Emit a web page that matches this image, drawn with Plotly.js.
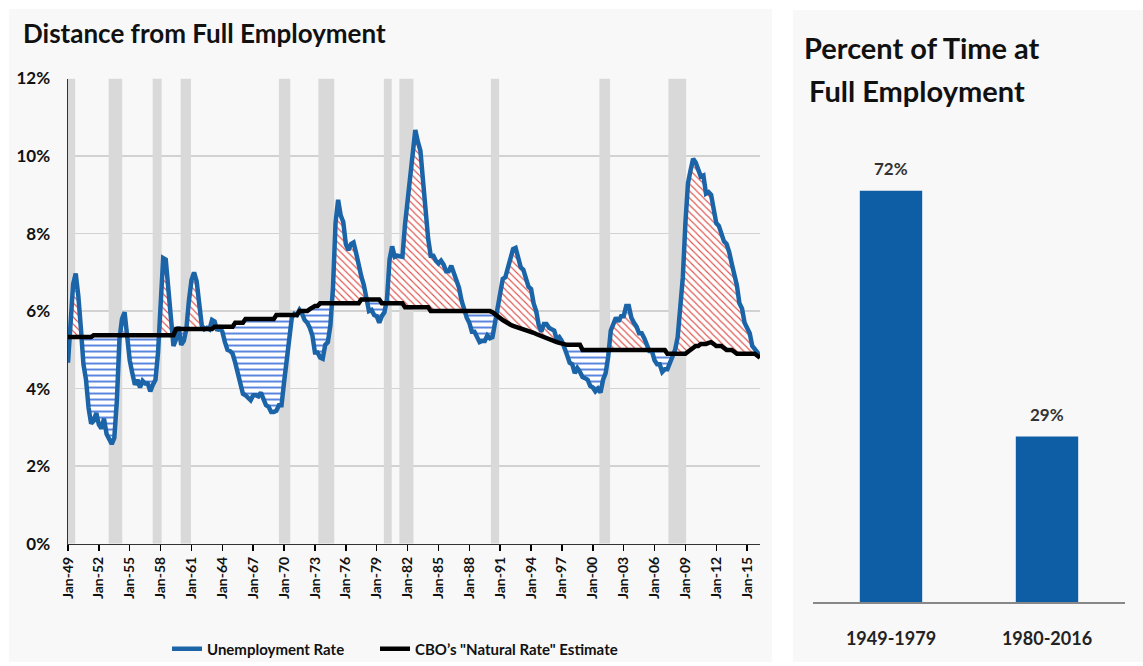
<!DOCTYPE html>
<html><head><meta charset="utf-8">
<script src="https://cdn.plot.ly/plotly-3.0.1.min.js"></script>
<style>html,body{margin:0;padding:0;background:#fff;}#chart{width:1143px;height:666px;}</style>
</head><body><div id="chart"></div>
<script>
// ---- Data (quarterly, starting 1949 Q1) ----
const startYear = 1949;
const unemployment = [
 4.67,5.87,6.70,6.97, 6.40,5.57,4.63,4.23, 3.50,3.10,3.17,3.37, 3.07,2.97,3.23,2.83,
 2.70,2.57,2.73,3.70, 5.27,5.80,5.97,5.33, 4.73,4.40,4.10,4.23, 4.03,4.20,4.13,4.13,
 3.93,4.10,4.23,4.93, 6.30,7.37,7.33,6.37, 5.83,5.10,5.27,5.60, 5.13,5.23,5.53,6.27,
 6.80,7.00,6.77,6.20, 5.63,5.53,5.57,5.53, 5.77,5.73,5.50,5.57, 5.47,5.20,5.00,4.97,
 4.90,4.67,4.37,4.10, 3.87,3.83,3.77,3.70, 3.83,3.83,3.80,3.90, 3.73,3.57,3.53,3.40,
 3.40,3.43,3.57,3.57, 4.17,4.77,5.17,5.83, 5.93,5.90,6.03,5.93, 5.77,5.70,5.57,5.37,
 4.93,4.93,4.80,4.77, 5.13,5.20,5.63,6.60, 8.27,8.87,8.47,8.30, 7.73,7.57,7.73,7.77,
 7.50,7.13,6.90,6.67, 6.33,6.00,6.03,5.90, 5.87,5.70,5.87,5.97, 6.30,7.33,7.67,7.40,
 7.43,7.40,7.40,8.23, 8.83,9.43,9.90,10.67, 10.37,10.13,9.37,8.53, 7.87,7.43,7.43,7.30,
 7.23,7.30,7.20,7.03, 7.03,7.17,6.97,6.83, 6.60,6.27,6.00,5.83, 5.70,5.47,5.47,5.33,
 5.20,5.23,5.23,5.37, 5.30,5.33,5.70,6.13, 6.60,6.83,6.87,7.10, 7.37,7.60,7.63,7.37,
 7.13,7.07,6.80,6.63, 6.57,6.20,6.00,5.63, 5.47,5.67,5.67,5.57, 5.53,5.50,5.27,5.33,
 5.23,5.00,4.87,4.67, 4.63,4.40,4.53,4.43, 4.30,4.27,4.23,4.07, 4.03,3.93,4.00,3.90,
 4.23,4.40,4.83,5.50, 5.70,5.83,5.73,5.87, 5.87,6.13,6.13,5.83, 5.70,5.60,5.43,5.43,
 5.30,5.10,4.97,4.97, 4.73,4.63,4.63,4.43, 4.50,4.50,4.67,4.80, 5.00,5.33,6.00,6.87,
 8.27,9.30,9.63,9.93, 9.83,9.63,9.47,9.50, 9.03,9.07,9.00,8.63, 8.27,8.20,8.03,7.80,
 7.73,7.53,7.23,6.93, 6.67,6.20,6.07,5.70, 5.53,5.43,5.10,5.03, 4.93,4.85
];
const naturalRate = [
 5.33,5.33,5.33,5.33, 5.33,5.33,5.33,5.33, 5.33,5.33,5.38,5.38, 5.38,5.38,5.38,5.38,
 5.38,5.38,5.38,5.38, 5.38,5.38,5.38,5.38, 5.38,5.38,5.38,5.38, 5.38,5.38,5.38,5.38,
 5.38,5.38,5.38,5.38, 5.38,5.38,5.38,5.38, 5.38,5.38,5.54,5.54, 5.54,5.54,5.54,5.54,
 5.54,5.54,5.54,5.54, 5.54,5.54,5.54,5.54, 5.54,5.60,5.60,5.60, 5.60,5.60,5.60,5.60,
 5.60,5.70,5.70,5.70, 5.70,5.80,5.80,5.80, 5.80,5.80,5.80,5.80, 5.80,5.80,5.80,5.80,
 5.80,5.90,5.90,5.90, 5.90,5.90,5.90,5.90, 5.90,5.90,6.00,6.00, 6.00,6.00,6.05,6.10,
 6.13,6.13,6.20,6.20, 6.20,6.20,6.20,6.20, 6.20,6.20,6.20,6.20, 6.20,6.20,6.20,6.20,
 6.20,6.20,6.30,6.30, 6.30,6.30,6.30,6.30, 6.30,6.30,6.20,6.20, 6.20,6.20,6.20,6.20,
 6.20,6.20,6.20,6.10, 6.10,6.10,6.10,6.10, 6.10,6.10,6.10,6.10, 6.10,6.00,6.00,6.00,
 6.00,6.00,6.00,6.00, 6.00,6.00,6.00,6.00, 6.00,6.00,6.00,6.00, 6.00,6.00,6.00,6.00,
 6.00,6.00,6.00,6.00, 6.00,5.97,5.93,5.88, 5.82,5.77,5.72,5.68, 5.65,5.62,5.60,5.58,
 5.56,5.54,5.52,5.50, 5.47,5.44,5.41,5.38, 5.35,5.32,5.29,5.27, 5.25,5.22,5.20,5.18,
 5.16,5.13,5.13,5.13, 5.13,5.13,5.13,5.13, 5.00,5.00,5.00,5.00, 5.00,5.00,5.00,5.00,
 5.00,5.00,5.00,5.00, 5.00,5.00,5.00,5.00, 5.00,5.00,5.00,5.00, 5.00,5.00,5.00,5.00,
 5.00,5.00,5.00,5.00, 5.00,5.00,5.00,5.00, 5.00,4.90,4.90,4.90, 4.90,4.90,4.90,4.90,
 4.90,4.95,5.00,5.05, 5.10,5.10,5.15,5.15, 5.15,5.18,5.20,5.15, 5.10,5.10,5.10,5.05,
 5.00,5.00,5.00,4.95, 4.90,4.90,4.90,4.90, 4.90,4.90,4.90,4.90, 4.85,4.80
];
const recessionStarts = [1949.0,1952.95,1957.23,1959.95,1969.5,1973.33,1979.7,1981.2,1990.1,2000.64,2007.35];
const recessionEnds   = [1949.7,1954.27,1958.1,1960.95,1970.6,1974.88,1980.46,1982.57,1990.9,2001.68,2009.07];
const tickYears  = [1949,1952,1955,1958,1961,1964,1967,1970,1973,1976,1979,1982,1985,1988,1991,1994,1997,2000,2003,2006,2009,2012,2015];
const tickLabels = ['Jan-49','Jan-52','Jan-55','Jan-58','Jan-61','Jan-64','Jan-67','Jan-70','Jan-73','Jan-76','Jan-79','Jan-82','Jan-85','Jan-88','Jan-91','Jan-94','Jan-97','Jan-00','Jan-03','Jan-06','Jan-09','Jan-12','Jan-15'];
const yTicks = [0,2,4,6,8,10,12];
const yTickLabels = ['0%','2%','4%','6%','8%','10%','12%'];
const barCategories = ['1949-1979','1980-2016'];
const barValues = [72,29];
const barLabels = ['72%','29%'];

// ---- Build ----
const W = 1143, H = 666;
const px = v => v / W, py = v => (H - v) / H;
const quarters = unemployment.map((_, i) => startYear + i / 4);

function splitFill(xs, u, n) {
  const X = [], up = [], lo = [], base = [];
  for (let i = 0; i < xs.length; i++) {
    if (i > 0) {
      const d0 = u[i-1] - n[i-1], d1 = u[i] - n[i];
      if (d0 * d1 < 0) {
        const t = d0 / (d0 - d1);
        const xc = xs[i-1] + t * (xs[i] - xs[i-1]);
        const yc = n[i-1] + t * (n[i] - n[i-1]);
        X.push(xc); up.push(yc); lo.push(yc); base.push(yc);
      }
    }
    X.push(xs[i]); up.push(Math.max(u[i], n[i])); lo.push(Math.min(u[i], n[i])); base.push(n[i]);
  }
  return {X, up, lo, base};
}
const f = splitFill(quarters, unemployment, naturalRate);

const FONT = 'Lato, "Open Sans", sans-serif';
const hid = {mode:'lines', line:{width:0, color:'rgba(0,0,0,0)'}, showlegend:false, hoverinfo:'skip', xaxis:'x', yaxis:'y'};
const traces = [
  Object.assign({}, hid, {x:f.X, y:f.base}),
  Object.assign({}, hid, {x:f.X, y:f.up, fill:'tonexty', fillcolor:'#ffffff',
    fillpattern:{shape:'\\', fgcolor:'#e0504a', bgcolor:'#ffffff', size:5, solidity:0.22}}),
  Object.assign({}, hid, {x:f.X, y:f.base}),
  Object.assign({}, hid, {x:f.X, y:f.lo, fill:'tonexty', fillcolor:'#ffffff',
    fillpattern:{shape:'-', fgcolor:'#3b6fd9', bgcolor:'#ffffff', size:6, solidity:0.28}}),
  {x:quarters, y:unemployment, mode:'lines', name:'Unemployment Rate', legend:'legend',
   line:{color:'#1c64a8', width:4.5}, xaxis:'x', yaxis:'y', hoverinfo:'skip'},
  {x:quarters, y:naturalRate, mode:'lines', name:'CBO\u2019s "Natural Rate" Estimate', legend:'legend2',
   line:{color:'#000000', width:4.5}, xaxis:'x', yaxis:'y', hoverinfo:'skip'},
  {type:'bar', x:barCategories, y:barValues,
   marker:{color:'#0d5ea5'}, width:0.4, xaxis:'x2', yaxis:'y2', showlegend:false, hoverinfo:'skip'}
];

const shapes = [
  {type:'rect', xref:'paper', yref:'paper', x0:px(9), x1:px(772), y0:0, y1:py(9), fillcolor:'#f8f8f8', line:{width:0}, layer:'below'},
  {type:'rect', xref:'paper', yref:'paper', x0:px(793), x1:1, y0:0, y1:py(10), fillcolor:'#f8f8f8', line:{width:0}, layer:'below'}
];
recessionStarts.forEach((s, i) => shapes.push({type:'rect', xref:'x', yref:'y', x0:s, x1:recessionEnds[i], y0:0, y1:12,
  fillcolor:'#d9d9d9', line:{width:0}, layer:'between'}));

const annotations = [
  {xref:'paper', yref:'paper', x:px(21), y:py(33), xanchor:'left', yanchor:'middle', showarrow:false,
   text:'Distance from Full Employment', font:{family:FONT, size:26, color:'#111', weight:'bold'}},
  {xref:'paper', yref:'paper', x:px(802), y:py(48), xanchor:'left', yanchor:'middle', showarrow:false,
   text:'Percent of Time at', font:{family:FONT, size:29, color:'#111', weight:'bold'}},
  {xref:'paper', yref:'paper', x:px(807), y:py(91), xanchor:'left', yanchor:'middle', showarrow:false,
   text:'Full Employment', font:{family:FONT, size:29, color:'#111', weight:'bold'}}
];
barCategories.forEach((c, i) => annotations.push({xref:'x2', yref:'y2', x:c, y:barValues[i], yanchor:'bottom', yshift:10,
  showarrow:false, text:barLabels[i], font:{family:FONT, size:17, color:'#333', weight:'bold'}}));

const legendFont = {family:FONT, size:15, color:'#111', weight:'bold'};
const layout = {
  width:W, height:H, margin:{l:0,r:0,t:0,b:0}, paper_bgcolor:'#ffffff', plot_bgcolor:'rgba(0,0,0,0)',
  font:{family:FONT, color:'#111'},
  showlegend:true, hovermode:false,
  legend:{orientation:'h', x:px(167), xanchor:'left', y:py(653), yanchor:'middle', font:legendFont, bgcolor:'rgba(0,0,0,0)'},
  legend2:{orientation:'h', x:px(375), xanchor:'left', y:py(653), yanchor:'middle', font:legendFont, bgcolor:'rgba(0,0,0,0)'},
  xaxis:{domain:[px(68), px(760)], range:[1949, 2016.25], tickmode:'array', tickvals:tickYears, ticktext:tickLabels,
    tickangle:-90, ticks:'outside', ticklen:6, tickwidth:1.5, tickcolor:'#000', showgrid:false, zeroline:false,
    showline:true, linecolor:'#333', linewidth:1.5, tickfont:{family:FONT, size:14, color:'#111', weight:'bold'}, anchor:'y'},
  yaxis:{domain:[py(547), py(79)], range:[0,12], tickmode:'array', tickvals:yTicks, ticktext:yTickLabels,
    showgrid:true, gridcolor:'#d2d2d2', gridwidth:1.5, zeroline:false, showline:true, linecolor:'#333', linewidth:1.5,
    ticks:'outside', ticklen:13, tickcolor:'rgba(0,0,0,0)', tickfont:{family:FONT, size:17, color:'#111', weight:'bold'}, anchor:'x'},
  xaxis2:{domain:[px(813), px(1125)], type:'category', range:[-0.5,1.5], anchor:'y2', showline:true, linecolor:'#888', linewidth:1.5,
    ticks:'outside', ticklen:20, tickcolor:'rgba(0,0,0,0)', showgrid:false, zeroline:false,
    tickfont:{family:FONT, size:18, color:'#222', weight:'bold'}},
  yaxis2:{domain:[py(606), py(146)], range:[0,80], visible:false, anchor:'x2'},
  shapes:shapes,
  annotations:annotations
};
Plotly.newPlot('chart', traces, layout, {displayModeBar:false, staticPlot:true});
</script></body></html>
